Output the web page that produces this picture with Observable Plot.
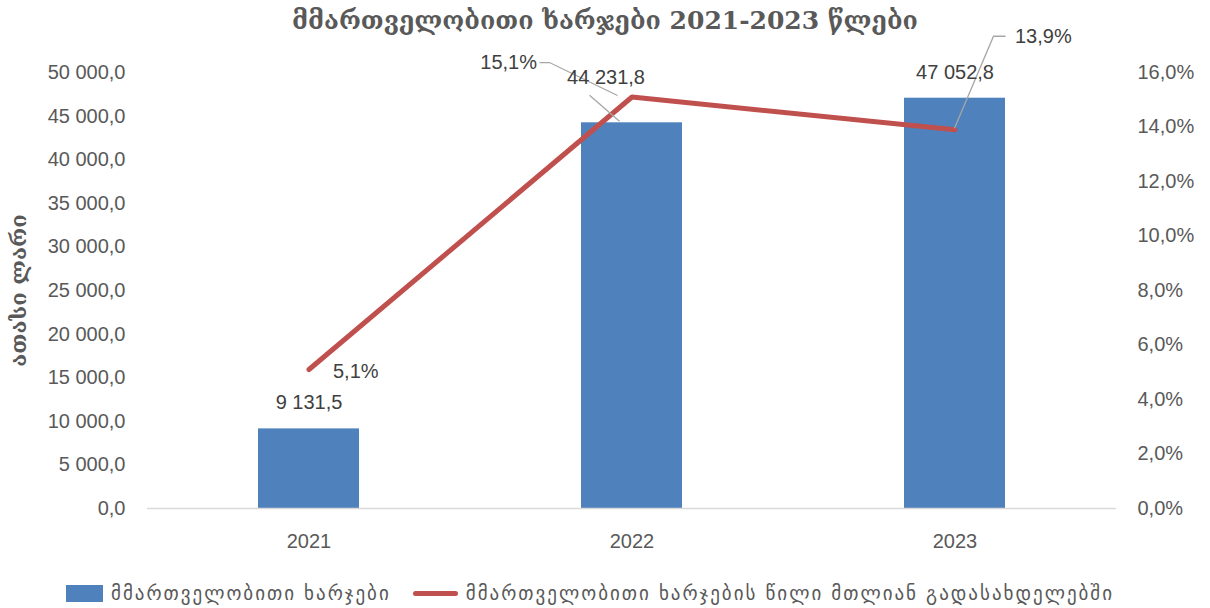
<!DOCTYPE html>
<html>
<head>
<meta charset="utf-8">
<script src="https://cdn.jsdelivr.net/npm/d3@7"></script>
<script src="https://cdn.jsdelivr.net/npm/@observablehq/plot@0.6"></script>
<style>
  html, body { margin: 0; padding: 0; background: #fff; }
  #wrap { width: 1210px; height: 608px; position: relative; overflow: hidden; }
  #title { height: 45px; line-height: 42px; text-align: center; font-family: "DejaVu Serif", serif; font-weight: bold; font-size: 25px; color: #595959; position: relative; z-index: 0; }
  #chart { position: relative; z-index: 1; }
  #chart svg { overflow: visible; background: transparent !important; }
  #legend { display: flex; justify-content: center; align-items: center; font-family: "DejaVu Sans", sans-serif; font-size: 19px; letter-spacing: 2px; color: #595959; margin-top: 12px; margin-left: -30px; }
  .sw-bar { display: inline-block; width: 37px; height: 17px; background: #4F81BD; margin-right: 8px; }
  .sw-line { display: inline-block; width: 45px; height: 5px; border-radius: 3px; background: #C0504D; margin-left: 22px; margin-right: 8px; }
</style>
</head>
<body>
<div id="wrap">
  <div id="title">მმართველობითი ხარჯები 2021-2023 წლები</div>
  <div id="chart"></div>
  <div id="legend">
    <span class="sw-bar"></span><span>მმართველობითი ხარჯები</span>
    <span class="sw-line"></span><span>მმართველობითი ხარჯების წილი მთლიან გადასახდელებში</span>
  </div>
</div>
<script>
const years = ["2021", "2022", "2023"];
const spending = [9131.5, 44231.8, 47052.8];
const sharePct = [5.1, 15.1, 13.9];
const leftTicks = [0, 5000, 10000, 15000, 20000, 25000, 30000, 35000, 40000, 45000, 50000];
const rightTicks = [0, 2, 4, 6, 8, 10, 12, 14, 16];
const yTitle = "ათასი ლარი";

const leftMax = 50000, rightMax = 16;
const k = leftMax / rightMax;

const loc = d3.formatLocale({decimal: ",", thousands: " ", grouping: [3], currency: ["", ""]});
const fNum = loc.format(",.1f");
const fPct = v => loc.format(".1f")(v) + "%";

const data = years.map((y, i) => ({year: y, value: spending[i], share: sharePct[i]}));

const barColor = "#4F81BD", lineColor = "#C0504D", labelColor = "#404040", leaderColor = "#A6A6A6";

// leader lines drawn through the library's scales (offsets are pixel styles relative to data points)
function leaders(index, scales, values, dims) {
  const x = scales.x, y = scales.y, bw = x.bandwidth() / 2;
  const g = d3.create("svg:g").attr("fill", "none").attr("stroke", leaderColor).attr("stroke-width", 1.3);
  const bx = x(years[1]) + bw, by = y(spending[1]);
  g.append("path").attr("d", `M${bx - 12},${by - 1}L${bx - 42},${by - 27}`);
  const px = x(years[1]) + bw, py = y(sharePct[1] * k);
  g.append("path").attr("d", `M${px - 14},${py - 1}L${px - 82},${py - 34}L${px - 92},${py - 34}`);
  const qx = x(years[2]) + bw, qy = y(sharePct[2] * k);
  g.append("path").attr("d", `M${qx},${qy - 1}L${qx + 39},${qy - 93}L${qx + 51},${qy - 93}`);
  return g.node();
}

const chart = Plot.plot({
  width: 1210,
  height: 525,
  marginTop: 27,
  marginBottom: 62,
  marginLeft: 147,
  marginRight: 94,
  style: {fontFamily: "Liberation Sans, Arial, sans-serif", fontSize: "20px", color: "#595959", background: "transparent", overflow: "visible"},
  x: {domain: years, paddingInner: 0.687, paddingOuter: 0.3435, label: null},
  y: {domain: [0, leftMax], label: null},
  marks: [
    Plot.barY(data, {x: "year", y: "value", fill: barColor}),
    Plot.ruleY([0], {stroke: "#D9D9D9", strokeWidth: 1.3}),
    Plot.axisY(leftTicks, {anchor: "left", tickSize: 0, tickPadding: 22, tickFormat: fNum, label: null}),
    Plot.axisY(rightTicks.map(v => v * k), {anchor: "right", tickSize: 0, tickPadding: 21, tickFormat: v => fPct(v / k), label: null}),
    Plot.axisX({tickSize: 0, tickPadding: 25, label: null}),
    Plot.text([yTitle], {frameAnchor: "left", textAnchor: "middle", dx: -129, rotate: -90, fontFamily: "DejaVu Serif, serif", fontWeight: "bold", fontSize: 22, fill: "#595959"}),
    Plot.line(data, {x: "year", y: d => d.share * k, stroke: lineColor, strokeWidth: 5, strokeLinecap: "round", strokeLinejoin: "round"}),
    leaders,
    Plot.text(data.filter((d, i) => i !== 1), {x: "year", y: "value", text: d => fNum(d.value), dy: -26, fill: labelColor}),
    Plot.text(data.filter((d, i) => i === 1), {x: "year", y: "value", text: d => fNum(d.value), dx: -26, dy: -45, fill: labelColor}),
    Plot.text(data.filter((d, i) => i === 0), {x: "year", y: d => d.share * k, text: d => fPct(d.share), textAnchor: "start", dx: 24, dy: 2, fill: labelColor}),
    Plot.text(data.filter((d, i) => i === 1), {x: "year", y: d => d.share * k, text: d => fPct(d.share), textAnchor: "end", dx: -95, dy: -34, fill: labelColor}),
    Plot.text(data.filter((d, i) => i === 2), {x: "year", y: d => d.share * k, text: d => fPct(d.share), textAnchor: "start", dx: 60, dy: -93, fill: labelColor})
  ]
});
document.getElementById("chart").appendChild(chart);
</script>
</body>
</html>
